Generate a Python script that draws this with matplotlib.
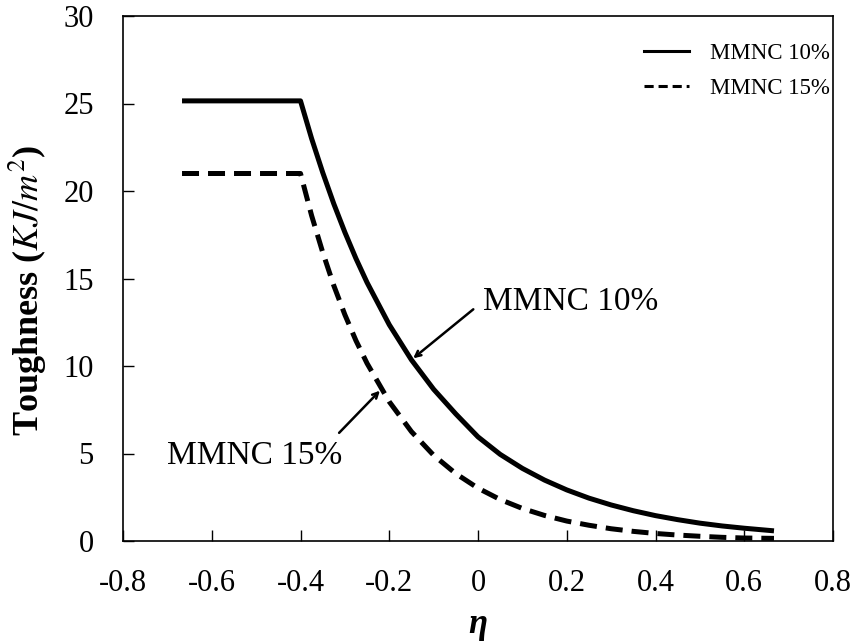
import matplotlib
matplotlib.use('Agg')
import matplotlib.pyplot as plt
from matplotlib.lines import Line2D

# Data
eta = [-0.667, -0.4, -0.375, -0.35, -0.325, -0.3, -0.275, -0.25, -0.2, -0.15, -0.1,
       -0.05, 0.0, 0.05, 0.1, 0.15, 0.2, 0.25, 0.3, 0.35, 0.4, 0.45, 0.5, 0.55,
       0.6, 0.667]
mmnc_10 = [25.15, 25.15, 23.0, 21.06, 19.27, 17.64, 16.14, 14.77, 12.36, 10.35, 8.67,
           7.26, 5.95, 4.95, 4.15, 3.48, 2.92, 2.45, 2.06, 1.73, 1.45, 1.22, 1.02, 0.86,
           0.73, 0.58]
mmnc_15 = [21.0, 21.0, 18.6, 16.5, 14.6, 12.93, 11.45, 10.15, 7.96, 6.25, 4.90,
           3.85, 3.02, 2.37, 1.86, 1.46, 1.14, 0.90, 0.70, 0.55, 0.43, 0.34, 0.27, 0.21,
           0.17, 0.15]
series_names = ['MMNC 10%', 'MMNC 15%']
x_ticks = [-0.8, -0.6, -0.4, -0.2, 0, 0.2, 0.4, 0.6, 0.8]
x_labels = ['-0.8', '-0.6', '-0.4', '-0.2', '0', '0.2', '0.4', '0.6', '0.8']
y_ticks = [0, 5, 10, 15, 20, 25, 30]

plt.rcParams['font.family'] = ['Liberation Serif', 'DejaVu Serif']
plt.rcParams['mathtext.fontset'] = 'stix'

fig = plt.figure(figsize=(8.57, 6.41), dpi=100)
ax = fig.add_axes([123 / 857, 1 - 541 / 641, 710 / 857, 525 / 641])

ax.plot(eta, mmnc_10, color='black', lw=3.6, solid_capstyle='butt')
ax.plot(eta, mmnc_15, color='black', lw=3.6, linestyle=(0, (3.4, 1.8)))

ax.set_xlim(-0.8, 0.8)
ax.set_ylim(0, 30)
ax.set_xticks(x_ticks)
ax.set_xticklabels(x_labels)
ax.set_yticks(y_ticks)
ax.tick_params(direction='in', length=8, width=1, labelsize=22)
ax.tick_params(axis='x', pad=20)
ax.tick_params(axis='y', pad=21)
for s in ax.spines.values():
    s.set_linewidth(1.2)

ax.set_xlabel('η', fontsize=25, fontweight='bold', fontstyle='italic', va='top')
ax.xaxis.set_label_coords(0.5, -0.128)
ax.set_ylabel(r'Toughness ($KJ/m^2$)', fontsize=26, fontweight='bold')
ax.yaxis.set_label_coords(-0.104, 0.478)

# Annotations
ax.text(0.011, 13.7, 'MMNC 10%', fontsize=24, va='center', ha='left')
ax.annotate('', xy=(-0.146, 10.44), xytext=(-0.0106, 13.24),
            arrowprops=dict(arrowstyle='->', lw=1.8, color='black',
                            shrinkA=0, shrinkB=0))
ax.text(-0.701, 4.9, 'MMNC 15%', fontsize=24, va='center', ha='left')
ax.annotate('', xy=(-0.221, 8.59), xytext=(-0.313, 6.18),
            arrowprops=dict(arrowstyle='->', lw=1.8, color='black',
                            shrinkA=0, shrinkB=0))

# Legend
handles = [Line2D([], [], color='black', lw=2.2),
           Line2D([], [], color='black', lw=2.2, linestyle=(0, (3, 1.6)))]
ax.legend(handles, series_names, loc='upper right', frameon=False, fontsize=16.5,
          handlelength=2.0, handletextpad=0.9, labelspacing=0.62,
          bbox_to_anchor=(1.015, 0.975), borderaxespad=0.2)

fig.savefig('out.png', dpi=100)
